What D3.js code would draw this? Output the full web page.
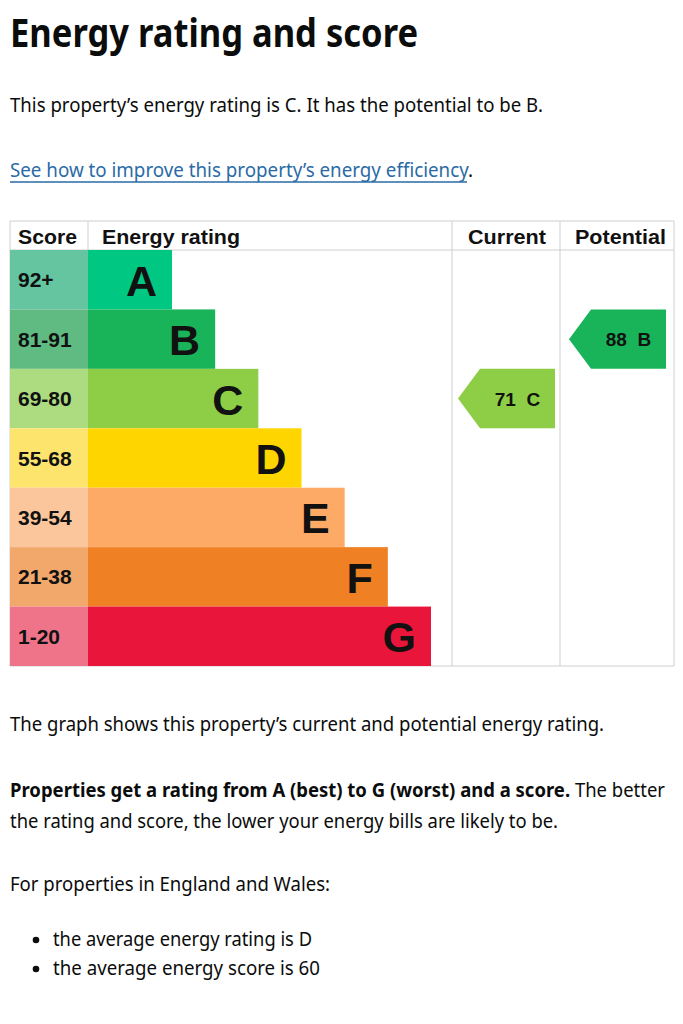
<!DOCTYPE html>
<html><head><meta charset="utf-8">
<script src="https://cdn.jsdelivr.net/npm/d3@7"></script>
<style>body{margin:0;background:#fff}svg{display:block}</style>
</head><body>
<svg id="c" width="683" height="1024"></svg>
<script>
const bands = ["A","B","C","D","E","F","G"];
const scoreRanges = ["92+","81-91","69-80","55-68","39-54","21-38","1-20"];
const barColors = ["#00c781","#19b459","#8dce46","#ffd500","#fcaa65","#ef8023","#e9153b"];
const scoreColors = ["#64c5a0","#5fbb82","#acdb80","#fde46d","#fcc69c","#f2a76b","#ef7489"];
const columns = ["Current","Potential"];
const ratingScores = [71, 88];
const ratingBands = ["C","B"];

const svg = d3.select("#c");
const ink = "#0b0c0c";
const linkBlue = "#2a6ba6";
const bodyFont = "'Noto Sans', Lato, sans-serif";
const chartFont = "'Liberation Sans', Arial, sans-serif";

function txt(s, x, yy, size, weight, len, color){
  const t = svg.append("text").attr("x",x).attr("y",yy).text(s)
    .attr("font-family", bodyFont).attr("font-size", size).attr("font-weight", weight||400)
    .attr("fill", color||ink);
  if(len) t.attr("textLength", len).attr("lengthAdjust","spacingAndGlyphs");
  return t;
}

// Page text
txt("Energy rating and score", 10, 47, 40, 700, 408);
txt("This property\u2019s energy rating is C. It has the potential to be B.", 10, 112, 19.5, 400, 533);
const link = txt(null, 10, 177, 19.5, 400, 463);
link.append("tspan").attr("fill",linkBlue).text("See how to improve this property\u2019s energy efficiency");
link.append("tspan").attr("fill",ink).text(".");
svg.append("line").attr("x1",10).attr("x2",467).attr("y1",182).attr("y2",182).attr("stroke",linkBlue).attr("stroke-width",1.3);

txt("The graph shows this property\u2019s current and potential energy rating.", 10, 731, 19.5, 400, 594);
const mixed = txt(null, 10, 797, 19.5, 400, 655);
mixed.append("tspan").attr("font-weight",700).text("Properties get a rating from A (best) to G (worst) and a score.");
mixed.append("tspan").text(" The better");
txt("the rating and score, the lower your energy bills are likely to be.", 10, 828, 19.5, 400, 548);
txt("For properties in England and Wales:", 10, 891, 19.5, 400, 320);
[["the average energy rating is D",946,259],["the average energy score is 60",975,267]].forEach(([s,yy,l])=>{
  svg.append("circle").attr("cx",36).attr("cy",yy-6).attr("r",3.3).attr("fill",ink);
  txt(s, 53, yy, 19.5, 400, l);
});

// Chart scales
const y = d3.scaleBand().domain(bands).range([250, 666]).padding(0);
const barEnd = d3.scaleLinear().domain([0, bands.length-1]).range([172, 431]);
const colX = d3.scaleBand().domain(columns).range([452, 674]);
const tLeft = 10, scoreW = 88, tRight = 674, tTop = 221, headBot = 250, tBottom = 666;

const grid = "#cfcfcf";
const g = svg.append("g");
g.append("line").attr("x1",tLeft).attr("x2",tRight).attr("y1",tTop).attr("y2",tTop).attr("stroke",grid);
g.append("line").attr("x1",tLeft).attr("x2",tRight).attr("y1",headBot).attr("y2",headBot).attr("stroke",grid);
g.append("line").attr("x1",tLeft).attr("x2",tRight).attr("y1",tBottom).attr("y2",tBottom).attr("stroke",grid);
g.append("line").attr("x1",tLeft).attr("x2",tLeft).attr("y1",tTop).attr("y2",tBottom).attr("stroke",grid);
g.append("line").attr("x1",scoreW).attr("x2",scoreW).attr("y1",tTop).attr("y2",headBot).attr("stroke",grid);
[452, 560, tRight].forEach(x=>g.append("line").attr("x1",x).attr("x2",x).attr("y1",tTop).attr("y2",tBottom).attr("stroke",grid));

const hdr = [["Score",18,59],["Energy rating",102,138],["Current",468,78],["Potential",575,91]];
hdr.forEach(([s,x,l])=>g.append("text").attr("x",x).attr("y",244).text(s)
  .attr("font-family",chartFont).attr("font-weight",700).attr("font-size",21).attr("fill","#111")
  .attr("textLength",l).attr("lengthAdjust","spacingAndGlyphs"));

g.selectAll("rect.sc").data(bands).join("rect").attr("class","sc")
  .attr("x",tLeft).attr("y",d=>y(d)).attr("width",scoreW-tLeft).attr("height",y.bandwidth())
  .attr("fill",(d,i)=>scoreColors[i]);
g.selectAll("text.sc").data(bands).join("text").attr("class","sc")
  .attr("x",18).attr("y",d=>y(d)+y.bandwidth()/2+7.5).text((d,i)=>scoreRanges[i])
  .attr("font-family",chartFont).attr("font-weight",700).attr("font-size",21).attr("fill","#111");

g.selectAll("rect.bar").data(bands).join("rect").attr("class","bar")
  .attr("x",scoreW).attr("y",d=>y(d)).attr("width",(d,i)=>barEnd(i)-scoreW).attr("height",y.bandwidth())
  .attr("fill",(d,i)=>barColors[i]);
g.selectAll("text.bar").data(bands).join("text").attr("class","bar")
  .attr("x",(d,i)=>barEnd(i)-15).attr("y",d=>y(d)+y.bandwidth()/2+16).attr("text-anchor","end").text(d=>d)
  .attr("font-family",chartFont).attr("font-weight",700).attr("font-size",43).attr("fill","#111");

columns.forEach((c,i)=>{
  const b = ratingBands[i], bi = bands.indexOf(b);
  const x0 = colX(c)+6, x1 = x0+97, y0 = y(b), h = y.bandwidth();
  const tip = 22;
  g.append("path").attr("d", d3.line()([[x0,y0+h/2],[x0+tip,y0],[x1,y0],[x1,y0+h],[x0+tip,y0+h]])+"Z")
    .attr("fill", barColors[bi]);
  g.append("text").attr("x",(x0+tip+x1)/2).attr("y",y0+h/2+7).attr("text-anchor","middle")
    .text(ratingScores[i]+"\u00a0\u00a0"+b)
    .attr("font-family",chartFont).attr("font-weight",700).attr("font-size",19).attr("fill","#111");
});
</script>
</body></html>
